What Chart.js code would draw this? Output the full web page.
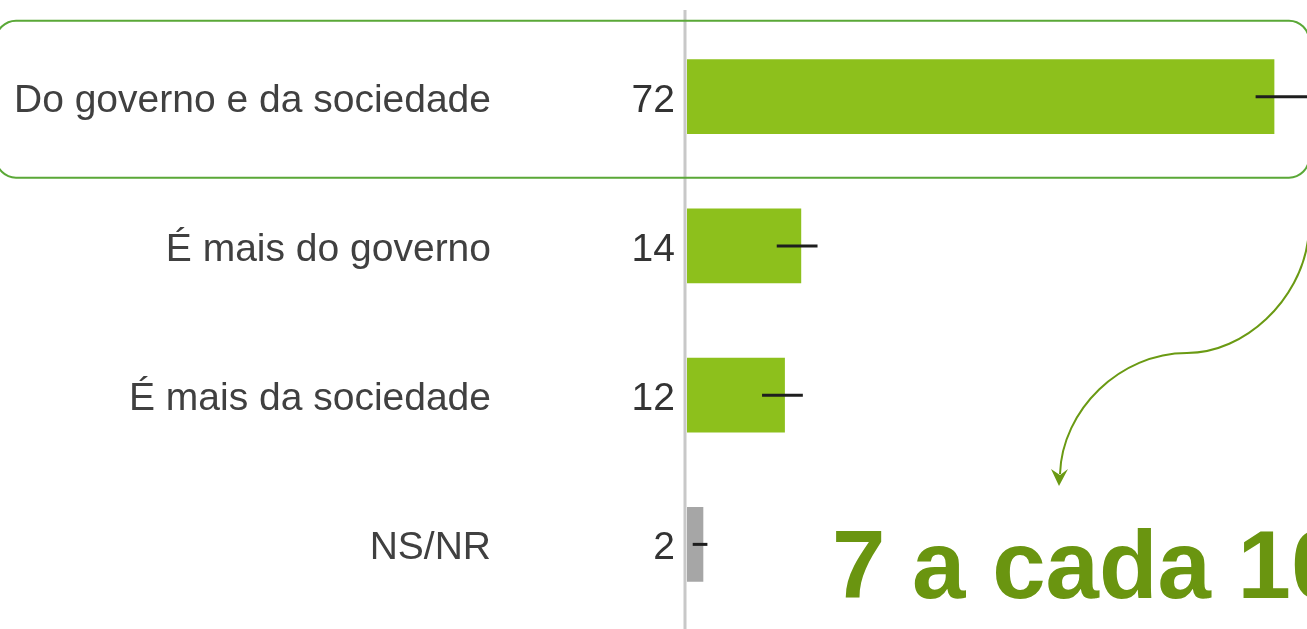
<!DOCTYPE html>
<html lang="pt-BR">
<head>
<meta charset="utf-8">
<script src="https://cdn.jsdelivr.net/npm/chart.js@4.4.1/dist/chart.umd.min.js"></script>
<style>
  html, body { margin: 0; padding: 0; background: #fff; overflow: hidden; }
  #wrap { width: 1307px; height: 629px; position: relative; }
</style>
</head>
<body>
<div id="wrap"><canvas id="chart"></canvas></div>
<script>
// Data
const categories = ['Do governo e da sociedade', 'É mais do governo', 'É mais da sociedade', 'NS/NR'];
const values = [72, 14, 12, 2];
const errLow = [69.7, 11.0, 9.2, 0.7];
const errHigh = [77.0, 16.0, 14.2, 2.5];
const barColors = ['#8dc01c', '#8dc01c', '#8dc01c', '#a6a6a6'];
const headline = '7 a cada 10';
const xMax = 76;

const FONT = '"Liberation Sans", Arial, sans-serif';

// labels, axis line, error bars, highlight box, arrow, headline
const decorPlugin = {
    id: 'decor',
    afterDatasetsDraw(chart) {
        const ctx = chart.ctx;
        const x = chart.scales.x;
        const y = chart.scales.y;
        ctx.save();

        // vertical baseline
        ctx.strokeStyle = '#c8c8c8';
        ctx.lineWidth = 3;
        ctx.beginPath();
        ctx.moveTo(x.getPixelForValue(0) - 2, 10);
        ctx.lineTo(x.getPixelForValue(0) - 2, chart.height);
        ctx.stroke();

        // error bars
        ctx.strokeStyle = '#1e1e1e';
        ctx.lineWidth = 3;
        errLow.forEach((lo, i) => {
            const py = y.getPixelForValue(i);
            ctx.beginPath();
            ctx.moveTo(x.getPixelForValue(lo), py);
            ctx.lineTo(x.getPixelForValue(errHigh[i]), py);
            ctx.stroke();
        });

        // category + value labels
        ctx.font = '39px ' + FONT;
        ctx.textBaseline = 'alphabetic';
        ctx.textAlign = 'right';
        categories.forEach((c, i) => {
            const py = y.getPixelForValue(i) + 15;
            ctx.fillStyle = '#404040';
            ctx.fillText(c, 491, py);
            ctx.fillStyle = '#333333';
            ctx.fillText(String(values[i]), x.getPixelForValue(0) - 12, py);
        });

        // highlight box round the first row
        const c0 = y.getPixelForValue(0);
        ctx.strokeStyle = '#5aa837';
        ctx.lineWidth = 2;
        ctx.beginPath();
        ctx.roundRect(-4, c0 - 76, chart.width + 6, 157, 20);
        ctx.stroke();

        // curved arrow
        ctx.strokeStyle = '#6a9a13';
        ctx.fillStyle = '#6a9a13';
        ctx.lineWidth = 2;
        ctx.beginPath();
        ctx.moveTo(1308, 240);
        ctx.bezierCurveTo(1300, 300, 1245, 353, 1187, 353);
        ctx.bezierCurveTo(1120, 353, 1062, 410, 1060, 474);
        ctx.stroke();
        ctx.beginPath();
        ctx.moveTo(1059, 486);
        ctx.lineTo(1051, 469);
        ctx.lineTo(1060, 475);
        ctx.lineTo(1068, 469);
        ctx.closePath();
        ctx.fill();

        // headline
        ctx.font = 'bold 96px ' + FONT;
        ctx.textAlign = 'left';
        ctx.fillStyle = '#6a9510';
        ctx.fillText(headline, 832, 598);

        ctx.restore();
    }
};

new Chart(document.getElementById('chart'), {
    type: 'bar',
    data: {
        labels: categories,
        datasets: [{
            data: values,
            backgroundColor: barColors,
            borderWidth: 0,
            categoryPercentage: 1,
            barPercentage: 0.5
        }]
    },
    options: {
        indexAxis: 'y',
        responsive: true,
        maintainAspectRatio: false,
        animation: false,
        layout: { padding: { left: 687, top: 22, bottom: 10, right: 0 } },
        plugins: { legend: { display: false }, tooltip: { enabled: false } },
        scales: {
            x: { display: false, min: 0, max: xMax },
            y: { display: false }
        }
    },
    plugins: [decorPlugin]
});
</script>
</body>
</html>
